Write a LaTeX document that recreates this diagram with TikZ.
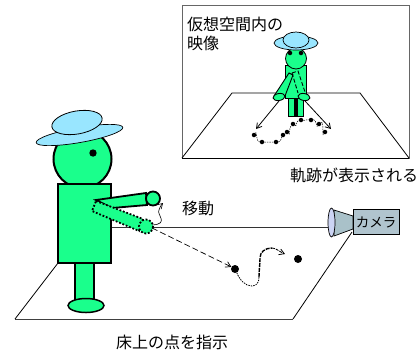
\documentclass[tikz,border=0pt]{standalone}
\usepackage{fontspec}
\setmainfont{Noto Sans CJK JP}
\usetikzlibrary{arrows.meta}
\definecolor{bodygreen}{HTML}{1AFF8C}
\definecolor{hatblue}{HTML}{99E6FF}
\definecolor{cambox}{HTML}{B0C4CE}
\definecolor{camcone}{HTML}{A9C1C9}
\definecolor{camlens}{HTML}{CCD4F4}
\tikzset{
  label text/.style={inner sep=0pt,font=\fontsize{16}{19}\selectfont,align=left},
  green part/.style={draw=black,fill=bodygreen},
  hat part/.style={draw=black,fill=hatblue},
  dot/.style={circle,fill=black,inner sep=0pt,minimum size=#1},
  open tip/.style={-{Straight Barb[length=5pt,width=6pt]}},
}
\begin{document}
\begin{tikzpicture}[x=1pt,y=-1pt,line join=miter]
\useasboundingbox (0,0) rectangle (419,354);

% floor of the room
\draw[line width=0.8pt,black!80] (111,227) -- (330,227);
\draw[line width=0.9pt,black!75] (15,319) -- (293,319);
\draw[line width=0.8pt] (15,319) -- (58,263);
\draw[line width=0.8pt] (293,319) -- (352,232);

% camera
\draw[line width=0.7pt,fill=camcone] (334,210) -- (353,216) -- (353,229) -- (334,236) -- cycle;
\draw[line width=0.7pt,fill=camlens] (331.5,222.5) ellipse [x radius=3.5,y radius=14.5];
\node[draw,line width=0.8pt,fill=cambox,minimum width=46pt,minimum height=25pt,inner sep=0pt] (cambody) at (376,222) {};
\node[inner sep=0pt,font=\fontsize{13.5}{15}\selectfont] (camlabel) at (cambody) {カメラ};

% pointing figure
\draw[green part,line width=1.8pt] (75,263) rectangle (94,300);
\draw[green part,line width=1.5pt] (86,305.5) ellipse [x radius=18,y radius=7];
\draw[green part,line width=2pt] (82.5,159) circle [radius=29];
\fill (93,153) circle [radius=3.7];
\draw[green part,line width=2.2pt] (58,184) rectangle (111,263);
\draw[hat part,line width=0.7pt,rotate around={10:(79.5,135)}] (79.5,135) ellipse [x radius=44,y radius=7.5];
\draw[hat part,line width=0.8pt,rotate around={10:(77,122.5)}] (77,122.5) ellipse [x radius=25.5,y radius=11.5];

% raised arm and hand
\draw[green part,line width=1.8pt] (96,200) -- (146,193) -- (147,205) -- (112,208) -- cycle;
\draw[green part,line width=1.8pt] (153,198.5) circle [radius=7];

% lowered arm, shown dotted
\draw[green part,line width=1.8pt,dash pattern=on 1.8pt off 1.8pt] (96,201) -- (143,219) -- (139,231) -- (92,211) -- cycle;
\draw[green part,line width=1.8pt,dash pattern=on 1.8pt off 1.8pt] (146,226.5) circle [radius=7];

% hand movement
\coordinate (moveA) at (152,225);
\coordinate (moveB) at (163,203);
\draw[open tip,line width=0.6pt] (moveA) .. controls (170,224) and (156,214) .. (159,210) .. controls (160,207) and (161,205) .. (moveB);

% pointing direction and the two floor points
\node[dot=8pt] (p1) at (235,269) {};
\node[dot=8pt] (p2) at (298,259) {};
\draw[open tip,line width=0.7pt,dash pattern=on 6pt off 3pt] (152,228) -- (p1.150);
\coordinate (pathend) at (285,254);
\draw[line width=0.8pt,dash pattern=on 1.5pt off 1pt] (p1) .. controls (240,280) and (245,286) .. (252,286) .. controls (257,286) and (259,282) .. (259,277);
\draw[line width=1.4pt,dash pattern=on 4pt off 1pt] (259,277) .. controls (259,270) and (260,265) .. (260,258) .. controls (260,252) and (265,248) .. (272,248);
\draw[open tip,line width=0.8pt,dash pattern=on 3pt off 1pt] (272,248) .. controls (276,248) and (280,252) .. (pathend);

% inset view
\node[draw=black!60,line width=0.9pt,minimum width=227pt,minimum height=153pt,inner sep=0pt] (view) at (295.5,81.5) {};
\draw[line width=0.9pt] (182,158) -- (409,158);
\draw[line width=0.8pt] (182,158) -- (232,93) -- (360,93) -- (409,158);

% figure seen on screen
\draw[green part,line width=0.8pt] (288,98) rectangle (303,116);
\draw[line width=3.2pt] (296,98) -- (296,116);
\draw[green part,line width=0.8pt] (285.5,65.5) rectangle (306.5,98);
\draw[green part,line width=0.8pt] (296,58.5) circle [radius=10.5];
\node[dot=4.5pt] (eyeL) at (290,53) {};
\node[dot=4.5pt] (eyeR) at (301,53) {};
\draw[hat part,line width=0.7pt] (296,43) ellipse [x radius=22,y radius=7];
\draw[hat part,line width=0.7pt] (296,40) ellipse [x radius=13,y radius=8];
\draw[green part,line width=0.9pt] (289,73) -- (274,96) -- (285,96) -- (293,75) -- cycle;
\draw[line width=0.9pt,dash pattern=on 4pt off 2pt] (292,73) -- (298,71) -- (305,92);
\draw[line width=0.9pt,dash pattern=on 4pt off 2pt] (292,73) -- (298,93);
\draw[green part,line width=0.9pt,rotate around={10:(279,97)}] (279,97) ellipse [x radius=6,y radius=3.5];
\draw[green part,line width=0.9pt,rotate around={-10:(304,97)}] (304,97) ellipse [x radius=6,y radius=3.5];

% reach arrows on the screen floor
\draw[open tip,line width=0.8pt] (279,101) -- (256,129);
\draw[open tip,line width=0.8pt] (305,101) -- (331,129);

% recorded trajectory
\foreach \n/\px/\py in {a/254/135,b/262/142,c/276/142,d/283/135,e/287/132,f/293/124,g/301/120,h/311/120,i/319/124,j/325/132}{
  \node[dot=4.5pt] (t\n) at (\px,\py) {};
}
\draw[line width=0.5pt,dash pattern=on 1.5pt off 1pt] (ta) to[out=60,in=180] (tb) to[out=0,in=180] (tc) to[out=0,in=240] (td) -- (te) to[out=-50,in=220] (tf) to[out=-40,in=190] (tg) to[out=-10,in=170] (th) to[out=10,in=240] (ti) to[out=40,in=240] (tj);

% captions
\node[label text,anchor=north west] (viewlabel) at (187,17) {仮想空間内の\\映像};
\node[label text,anchor=west] (tracelabel) at (290,175) {軌跡が表示される};
\node[label text,anchor=west] (movelabel) at (182,208) {移動};
\node[label text,anchor=west] (floorlabel) at (116,342) {床上の点を指示};
\end{tikzpicture}
\end{document}
